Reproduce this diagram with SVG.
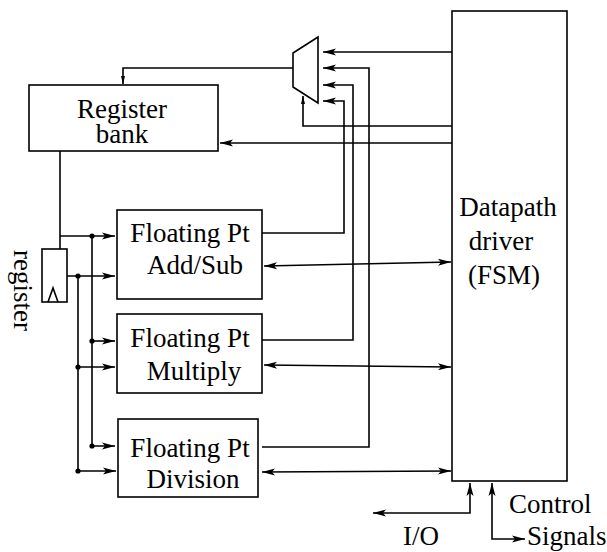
<svg xmlns="http://www.w3.org/2000/svg" width="607" height="552" viewBox="0 0 607 552">
<style>
.box{fill:#fff;stroke:#000;stroke-width:1.6}
.ln{fill:none;stroke:#000;stroke-width:1.6}
text{font-family:'Liberation Serif','Times New Roman','DejaVu Serif',serif;font-size:27px;fill:#000}
.m{text-anchor:middle}
</style>
<defs>
<marker id="a" markerUnits="userSpaceOnUse" orient="auto-start-reverse" overflow="visible" markerWidth="14" markerHeight="8" refX="0" refY="0">
<path d="M0,0 L-13,-3.5 L-10,0 L-13,3.5 z" fill="#000"/>
</marker>
<marker id="s" markerUnits="userSpaceOnUse" orient="auto" overflow="visible" markerWidth="8" markerHeight="6" refX="0" refY="0">
<path d="M0,0 L-8,-2 L-8,2 z" fill="#000"/>
</marker>
</defs>
<rect width="607" height="552" fill="#fff"/>
<g id="connectors">
<path class="ln" d="M293,68 H123 V84" marker-end="url(#s)"/>
<path class="ln" d="M452,143 H220" marker-end="url(#a)"/>
<path class="ln" d="M452,52 H323" marker-end="url(#a)"/>
<path class="ln" d="M262,233 H344 V101 H323" marker-end="url(#a)"/>
<path class="ln" d="M262,340 H353 V85 H323" marker-end="url(#a)"/>
<path class="ln" d="M262,447 H369 V68 H323" marker-end="url(#a)"/>
<path class="ln" d="M452,126 H303 V96" marker-end="url(#s)"/>
<path class="ln" d="M60,151 V249"/>
<path class="ln" d="M60,236 H115" marker-end="url(#a)"/>
<path class="ln" d="M67,276 H115" marker-end="url(#a)"/>
<path class="ln" d="M92,236 V446 H115" marker-end="url(#a)"/>
<path class="ln" d="M92,341 H115" marker-end="url(#a)"/>
<path class="ln" d="M78,276 V471 H116" marker-end="url(#a)"/>
<path class="ln" d="M78,367 H115" marker-end="url(#a)"/>
<circle cx="92" cy="236" r="2.6"/>
<circle cx="78" cy="276" r="2.6"/>
<circle cx="92" cy="341" r="2.6"/>
<circle cx="78" cy="367" r="2.6"/>
<circle cx="92" cy="446" r="2.6"/>
<circle cx="78" cy="471" r="2.6"/>
<path class="ln" d="M264,266 L451,262" marker-start="url(#a)" marker-end="url(#a)"/>
<path class="ln" d="M264,365 L451,367" marker-start="url(#a)" marker-end="url(#a)"/>
<path class="ln" d="M262,472 L451,471" marker-start="url(#a)" marker-end="url(#a)"/>
<path class="ln" d="M373,513 H470 V483" marker-start="url(#a)" marker-end="url(#a)"/>
<path class="ln" d="M492,483 V539 H525" marker-start="url(#a)" marker-end="url(#a)"/>
</g>
<g id="mux">
<path class="box" d="M293,53 L318,37 L318,103 L293,87 z"/>
</g>
<g id="register-bank">
<rect class="box" x="29" y="85" width="189" height="66"/>
<text class="m" x="122" y="118">Register</text>
<text class="m" x="122" y="143">bank</text>
</g>
<g id="register">
<rect class="box" x="42" y="249" width="25" height="53"/>
<path class="ln" d="M48,302 L53,288 L58,302"/>
<text transform="translate(14,250) rotate(90)">register</text>
</g>
<g id="fp-add">
<rect class="box" x="117" y="210" width="145" height="89"/>
<text class="m" x="190" y="242">Floating Pt</text>
<text class="m" x="195" y="274">Add/Sub</text>
</g>
<g id="fp-mul">
<rect class="box" x="117" y="314" width="145" height="79"/>
<text class="m" x="190" y="347">Floating Pt</text>
<text class="m" x="194" y="380">Multiply</text>
</g>
<g id="fp-div">
<rect class="box" x="118" y="419" width="140" height="78"/>
<text class="m" x="190" y="457">Floating Pt</text>
<text class="m" x="193" y="488">Division</text>
</g>
<g id="fsm">
<rect class="box" x="452" y="11" width="115" height="470"/>
<text class="m" x="508" y="216">Datapath</text>
<text class="m" x="501" y="250">driver</text>
<text class="m" x="504" y="284">(FSM)</text>
</g>
<g id="labels">
<text x="509" y="513">Control</text>
<text x="527" y="545">Signals</text>
<text x="403" y="545">I/O</text>
</g>
</svg>
